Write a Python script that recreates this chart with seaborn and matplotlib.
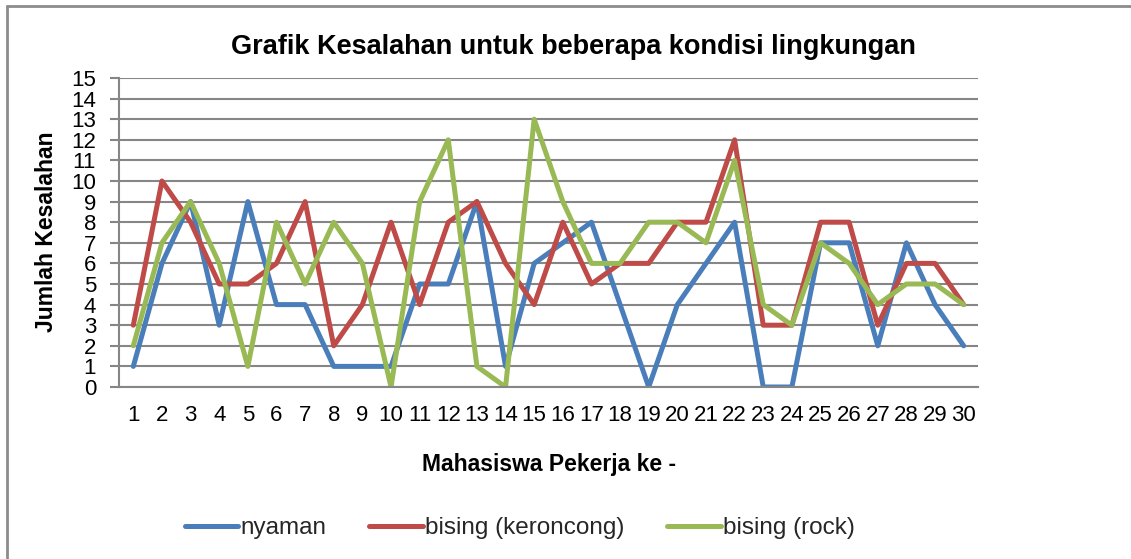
import numpy as np
import pandas as pd
import matplotlib
matplotlib.use("Agg")
import matplotlib.pyplot as plt
import seaborn as sns
from matplotlib.lines import Line2D

# ---- data ----
students = list(range(1, 31))
nyaman = [1, 6, 9, 3, 9, 4, 4, 1, 1, 1, 5, 5, 9, 1, 6, 7, 8, 4, 0, 4, 6, 8, 0, 0, 7, 7, 2, 7, 4, 2]
keroncong = [3, 10, 8, 5, 5, 6, 9, 2, 4, 8, 4, 8, 9, 6, 4, 8, 5, 6, 6, 8, 8, 12, 3, 3, 8, 8, 3, 6, 6, 4]
rock = [2, 7, 9, 6, 1, 8, 5, 8, 6, 0, 9, 12, 1, 0, 13, 9, 6, 6, 8, 8, 7, 11, 4, 3, 7, 6, 4, 5, 5, 4]
series_names = ["nyaman", "bising (keroncong)", "bising (rock)"]
colors = ["#4A7EBB", "#BE4B48", "#98B954"]
title = "Grafik Kesalahan untuk beberapa kondisi lingkungan"
xlabel = "Mahasiswa Pekerja ke -"
ylabel = "Jumlah Kesalahan"
yticks = list(range(0, 16))

df = pd.concat([
    pd.DataFrame({"x": students, "y": vals, "series": name})
    for name, vals in zip(series_names, [nyaman, keroncong, rock])
], ignore_index=True)

sns.set_theme(style="white")
plt.rcParams["font.family"] = ["Liberation Sans", "DejaVu Sans"]

W, H = 1131, 559
fig = plt.figure(figsize=(W / 100, H / 100), dpi=100)
ax = fig.add_axes([119 / W, 1 - 387 / H, (978 - 119) / W, (387 - 78) / H])

sns.lineplot(data=df, x="x", y="y", hue="series", hue_order=series_names,
             palette=colors, linewidth=3.6, ax=ax, legend=False, sort=False)

grid_c = "#868686"
ax.set_xlim(0.5, 30.5)
ax.set_ylim(0, 15)
ax.set_yticks(yticks)
ax.set_yticklabels([str(v) for v in yticks])
ax.set_xticks(students)
ax.set_xticklabels([str(v) for v in students])
ax.yaxis.grid(True, color=grid_c, linewidth=1.5)
ax.xaxis.grid(False)
ax.set_axisbelow(True)
for s in ["top", "right"]:
    ax.spines[s].set_visible(False)
for s in ["left", "bottom"]:
    ax.spines[s].set_color(grid_c)
    ax.spines[s].set_linewidth(1.5)
ax.tick_params(axis="y", which="major", left=True, length=6.5, width=1.5, color=grid_c,
               pad=10, labelsize=16, labelcolor="black")
ax.tick_params(axis="x", which="major", bottom=False, length=0, pad=13,
               labelsize=16, labelcolor="black")
ax.set_xlabel("")
ax.set_ylabel("")

fig.text(573 / W, 1 - 47 / H, title, ha="center", va="center",
         fontsize=19.5, fontweight="bold", color="black")
fig.text(549 / W, 1 - 464 / H, xlabel, ha="center", va="center",
         fontsize=16.5, fontweight="bold", color="black")
fig.text(47 / W, 1 - 232 / H, ylabel, ha="center", va="center", rotation=90,
         fontsize=16.5, fontweight="bold", color="black")

handles = [Line2D([0], [0], color=c, linewidth=3.6) for c in colors]
fig.legend(handles, series_names, loc="center", bbox_to_anchor=(520 / W, 1 - 528 / H),
           ncol=3, frameon=False, fontsize=17.5, handlelength=2.2, handletextpad=0.1,
           columnspacing=1.75)

# outer chart border (top and left visible)
border_c = "#8c8c8c"
fig.add_artist(Line2D([7 / W, 1.0], [1 - 6 / H, 1 - 6 / H], transform=fig.transFigure,
                      color=border_c, linewidth=2))
fig.add_artist(Line2D([7 / W, 7 / W], [0.0, 1 - 6 / H], transform=fig.transFigure,
                      color=border_c, linewidth=2))

fig.savefig("out.png", dpi=100)
